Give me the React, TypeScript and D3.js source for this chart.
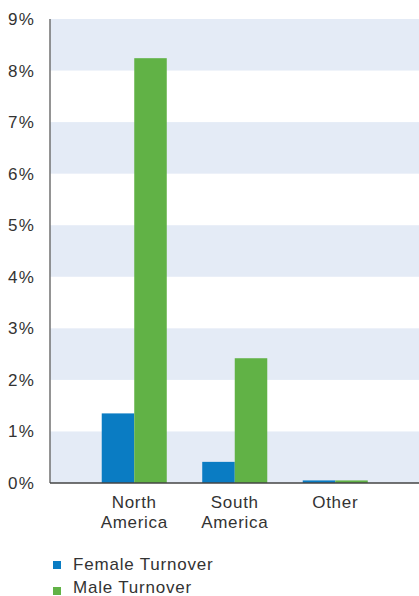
import React from "react";
import * as d3 from "d3";

const categories = [["North", "America"], ["South", "America"], ["Other"]];
const categoryKeys = ["North America", "South America", "Other"];
const seriesNames = ["Female Turnover", "Male Turnover"];
const femaleValues = [1.35, 0.41, 0.05];
const maleValues = [8.24, 2.42, 0.05];
const yTicks = [0, 1, 2, 3, 4, 5, 6, 7, 8, 9];
const colors = ["#0A7CC3", "#61B246"];

export default function App() {
  const W = 419, H = 596;
  const left = 50, top = 19, bottom = 483;
  const y = d3.scaleLinear().domain([0, 9]).range([bottom, top]);
  const x = d3.scaleBand<string>().domain(categoryKeys).range([84, 385.5]).paddingInner(0.353).paddingOuter(0.1765);
  const xi = d3.scaleBand<string>().domain(seriesNames).range([0, x.bandwidth()]);
  const series = [femaleValues, maleValues];
  const font = "'Liberation Sans', Arial, sans-serif";
  return (
    <svg width={W} height={H} style={{ position: "absolute", left: 0, top: 0 }} fontFamily={font}>
      {yTicks.filter(t => t % 2 === 0 && t < 9).map(t => (
        <rect key={"b" + t} x={left} y={y(t + 1)} width={W - left} height={y(t) - y(t + 1)} fill="#E4EBF6" />
      ))}
      {categoryKeys.map((c, ci) =>
        series.map((vals, si) => (
          <rect key={c + si} x={(x(c) as number) + (xi(seriesNames[si]) as number)} y={y(vals[ci])}
            width={xi.bandwidth()} height={y(0) - y(vals[ci])} fill={colors[si]} />
        ))
      )}
      <line x1={left} x2={left} y1={top} y2={bottom} stroke="#707070" strokeWidth={1.5} />
      <line x1={left} x2={W} y1={bottom} y2={bottom} stroke="#444" strokeWidth={1.5} />
      {yTicks.map(t => (
        <text key={"t" + t} x={35} y={y(t) + 6} textAnchor="end" fontSize={17} fill="#333" letterSpacing={1.2}>{t}%</text>
      ))}
      {categoryKeys.map((c, ci) => (
        <text key={"c" + c} textAnchor="middle" fontSize={17} fill="#333" letterSpacing={0.7}>
          {categories[ci].map((line, li) => (
            <tspan key={li} x={(x(c) as number) + x.bandwidth() / 2} y={508 + li * 20}>{line}</tspan>
          ))}
        </text>
      ))}
      {seriesNames.map((s, si) => (
        <g key={s}>
          <rect x={53} y={561 + si * 26} width={8} height={8} fill={colors[si]} />
          <text x={73} y={570 + si * 23} fontSize={17} fill="#333" letterSpacing={0.8}>{s}</text>
        </g>
      ))}
    </svg>
  );
}
